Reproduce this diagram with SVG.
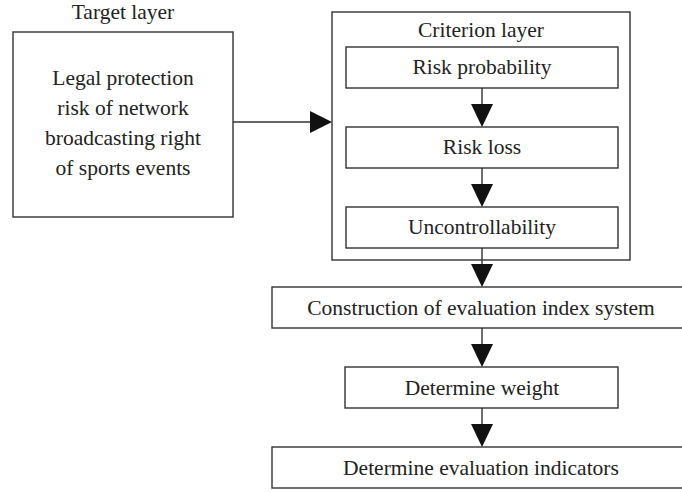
<svg xmlns="http://www.w3.org/2000/svg" width="682" height="492" viewBox="0 0 682 492">
<style>
.box{fill:#fff;stroke:#333;stroke-width:1.4}
.t{font-family:"Liberation Serif","Times New Roman",serif;font-size:21.5px;fill:#222;text-anchor:middle}
.c{stroke:#333;stroke-width:1.4;fill:none}
.h{fill:#111}
</style>
<rect width="682" height="492" fill="#fff"/>
<g id="target">
<text class="t" x="123" y="19">Target layer</text>
<rect class="box" x="13" y="32" width="220" height="185"/>
<text class="t" x="123" y="85">Legal protection</text>
<text class="t" x="123" y="115">risk of network</text>
<text class="t" x="123" y="145">broadcasting right</text>
<text class="t" x="123" y="175">of sports events</text>
</g>
<g id="criterion">
<rect class="box" x="332" y="12" width="298" height="248"/>
<text class="t" x="481" y="37">Criterion layer</text>
</g>
<g id="risk-probability">
<rect class="box" x="346" y="47" width="272" height="41"/>
<text class="t" x="482" y="74">Risk probability</text>
</g>
<g id="risk-loss">
<rect class="box" x="346" y="127" width="272" height="41"/>
<text class="t" x="482" y="154">Risk loss</text>
</g>
<g id="uncontrollability">
<rect class="box" x="346" y="207" width="272" height="41"/>
<text class="t" x="482" y="234">Uncontrollability</text>
</g>
<g id="construction">
<rect class="box" x="272" y="287" width="414" height="41"/>
<text class="t" x="481" y="315">Construction of evaluation index system</text>
</g>
<g id="weight">
<rect class="box" x="345" y="367" width="273" height="41"/>
<text class="t" x="482" y="395">Determine weight</text>
</g>
<g id="indicators">
<rect class="box" x="272" y="447" width="414" height="41"/>
<text class="t" x="481" y="475">Determine evaluation indicators</text>
</g>
<g id="connectors">
<line class="c" x1="233" y1="122" x2="312" y2="122"/>
<polygon class="h" points="332,122 310,111 310,133"/>
<line class="c" x1="482" y1="88" x2="482" y2="106"/>
<polygon class="h" points="482,127 471,104 493,104"/>
<line class="c" x1="482" y1="168" x2="482" y2="186"/>
<polygon class="h" points="482,207 471,184 493,184"/>
<line class="c" x1="482" y1="248" x2="482" y2="266"/>
<polygon class="h" points="482,287 471,264 493,264"/>
<line class="c" x1="482" y1="328" x2="482" y2="346"/>
<polygon class="h" points="482,367 471,344 493,344"/>
<line class="c" x1="482" y1="408" x2="482" y2="426"/>
<polygon class="h" points="482,447 471,424 493,424"/>
</g>
</svg>
